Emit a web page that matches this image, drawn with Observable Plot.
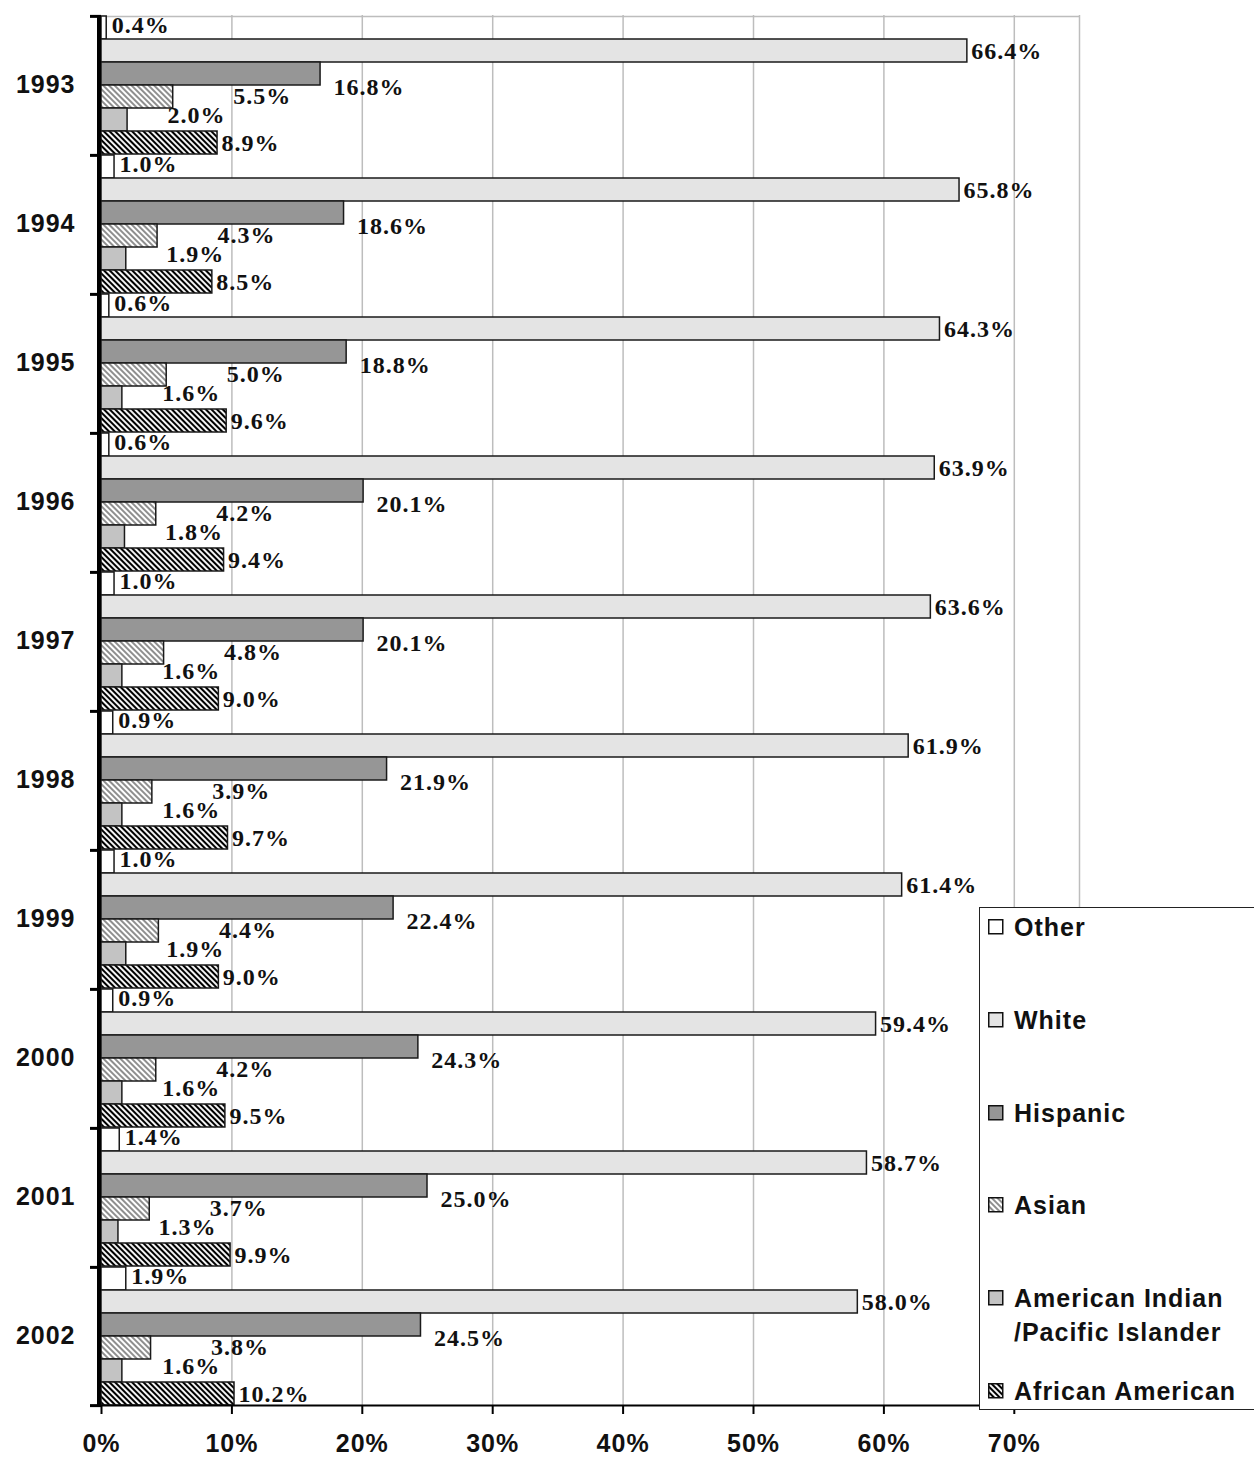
<!DOCTYPE html>
<html>
<head>
<meta charset="utf-8">
<script src="https://cdn.jsdelivr.net/npm/d3@7"></script>
<script src="https://cdn.jsdelivr.net/npm/@observablehq/plot@0.6"></script>
<style>
html, body { margin: 0; padding: 0; background: #fff; }
#wrap { position: relative; width: 1254px; height: 1463px; overflow: hidden; background: #fff; }
#wrap svg text { letter-spacing: 1px; }
#wrap svg g[aria-label="values"] text { letter-spacing: 0; }
#legend { position: absolute; left: 979px; top: 907px; width: 290px; height: 503px; border: 1.5px solid #222; background: #fff; box-sizing: border-box;
  font-family: "Liberation Sans", Arial, sans-serif; font-weight: bold; font-size: 25px; letter-spacing: 1px; color: #111; }
#legend .item { position: absolute; left: 8px; line-height: 34px; white-space: nowrap; }
#legend .item svg { position: absolute; left: 0; top: 9px; }
#legend .item span { display: block; margin-left: 26px; }
</style>
</head>
<body>
<svg width="0" height="0" style="position:absolute">
  <defs>
    <pattern id="pAsian" patternUnits="userSpaceOnUse" width="4" height="4" patternTransform="rotate(-45)">
      <rect width="4" height="4" fill="#fff"/>
      <line x1="2" y1="-1" x2="2" y2="5" stroke="#444" stroke-width="1.2"/>
    </pattern>
    <pattern id="pAfr" patternUnits="userSpaceOnUse" width="4" height="4" patternTransform="rotate(-45)">
      <rect width="4" height="4" fill="#fff"/>
      <line x1="2" y1="-1" x2="2" y2="5" stroke="#000" stroke-width="2.1"/>
    </pattern>
  </defs>
</svg>
<div id="wrap"><div id="legend"></div></div>
<script>
// ---- data ----
const years = ["1993", "1994", "1995", "1996", "1997", "1998", "1999", "2000", "2001", "2002"];
const races = ["Other", "White", "Hispanic", "Asian", "American Indian/Pacific Islander", "African American"];
const other    = [0.4, 1.0, 0.6, 0.6, 1.0, 0.9, 1.0, 0.9, 1.4, 1.9];
const white    = [66.4, 65.8, 64.3, 63.9, 63.6, 61.9, 61.4, 59.4, 58.7, 58.0];
const hispanic = [16.8, 18.6, 18.8, 20.1, 20.1, 21.9, 22.4, 24.3, 25.0, 24.5];
const asian    = [5.5, 4.3, 5.0, 4.2, 4.8, 3.9, 4.4, 4.2, 3.7, 3.8];
const amind    = [2.0, 1.9, 1.6, 1.8, 1.6, 1.6, 1.9, 1.6, 1.3, 1.6];
const afram    = [8.9, 8.5, 9.6, 9.4, 9.0, 9.7, 9.0, 9.5, 9.9, 10.2];
const xTicks = [0, 10, 20, 30, 40, 50, 60, 70];
const xMax = 75;
const legendLabels = ["Other", "White", "Hispanic", "Asian", "American Indian<br>/Pacific Islander", "African American"];

// ---- styles ----
const series = [other, white, hispanic, asian, amind, afram];
const sty = {
  "Other": {fill: "#ffffff", dx: 5, dy: -3},
  "White": {fill: "#e4e4e4", dx: 4, dy: 0},
  "Hispanic": {fill: "#969696", dx: 13, dy: 13},
  "Asian": {fill: "url(#pAsian)", dx: 60, dy: -1},
  "American Indian/Pacific Islander": {fill: "#c3c3c3", dx: 40, dy: -5},
  "African American": {fill: "url(#pAfr)", dx: 4, dy: 0}
};

const rows = years.flatMap((yr, i) => races.map((r, j) => ({year: yr, race: r, value: series[j][i]})));

const W = 1254, H = 1463, mt = 13, mb = 56, ml = 101, mr = 175;
const band = (H - mt - mb) / years.length / races.length;
const grey = "#bdbdbd";

const plot = Plot.plot({
  width: W, height: H,
  marginTop: mt, marginBottom: mb, marginLeft: ml, marginRight: mr,
  style: {fontFamily: '"Liberation Sans", Arial, sans-serif', fontSize: "25px", fontWeight: "bold", background: "#fff", color: "#111", overflow: "visible"},
  x: {domain: [0, xMax]},
  y: {domain: races, padding: 0, axis: null},
  fy: {domain: years, padding: 0},
  marks: [
    Plot.gridX(xTicks.slice(1), {stroke: grey, strokeOpacity: 1, strokeWidth: 1.5}),
    Plot.ruleX([xMax], {stroke: grey, strokeWidth: 1.5}),
    Plot.ruleY([years[0]], {fy: d => d, y: () => races[0], dy: -band / 2, x1: 0, x2: xMax, stroke: grey, strokeWidth: 1.5}),
    ...races.map(r => Plot.barX(rows.filter(d => d.race === r), {
      x: "value", y: "race", fy: "year", fill: sty[r].fill, stroke: "#1a1a1a", strokeWidth: 1.5
    })),
    ...races.map(r => Plot.text(rows.filter(d => d.race === r), {
      x: "value", y: "race", fy: "year", text: d => d.value.toFixed(1) + "%",
      textAnchor: "start", dx: sty[r].dx, dy: sty[r].dy,
      fontFamily: '"Liberation Serif", "Times New Roman", serif', fontSize: 24, fontWeight: "bold", fill: "#111",
      ariaLabel: "values"
    })),
    // bottom axis line
    Plot.ruleY([years[years.length - 1]], {fy: d => d, y: () => races[races.length - 1], dy: band / 2, x1: 0, x2: xMax, stroke: "#000", strokeWidth: 2}),
    // left axis line and group ticks
    Plot.ruleX([0], {stroke: "#000", strokeWidth: 4, dx: -2.5}),
    Plot.ruleY(years, {fy: d => d, y: () => races[0], dy: -band / 2, x1: 0, x2: 0, insetLeft: -11, stroke: "#000", strokeWidth: 3}),
    Plot.ruleY([years[years.length - 1]], {fy: d => d, y: () => races[races.length - 1], dy: band / 2, x1: 0, x2: 0, insetLeft: -11, stroke: "#000", strokeWidth: 3}),
    Plot.axisX(xTicks, {anchor: "bottom", tickSize: 9, tickPadding: 20, strokeWidth: 2, stroke: "#000", tickFormat: d => d + "%", label: null, fill: "#111"}),
    Plot.axisFy({anchor: "left", tickSize: 0, tickPadding: 26, label: null, fill: "#111"})
  ]
});
const wrap = document.getElementById("wrap");
wrap.insertBefore(plot, wrap.firstChild);

// ---- legend ----
const legend = document.getElementById("legend");
races.forEach((r, i) => {
  const item = document.createElement("div");
  item.className = "item";
  item.style.top = (19 + i * 92.8 - 17) + "px";
  item.innerHTML = `<svg width="16" height="16"><rect x="0.75" y="0.75" width="14" height="14" fill="${sty[r].fill}" stroke="#111" stroke-width="1.5"/></svg><span>${legendLabels[i]}</span>`;
  legend.appendChild(item);
});
</script>
</body>
</html>
